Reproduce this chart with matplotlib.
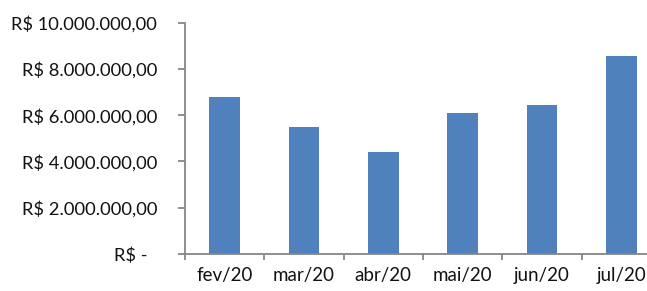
import numpy as np
import matplotlib
matplotlib.use("Agg")
import matplotlib.pyplot as plt
from matplotlib.ticker import FuncFormatter, FixedLocator

# data
months = ["fev/20", "mar/20", "abr/20", "mai/20", "jun/20", "jul/20"]
values = [6770000, 5480000, 4400000, 6100000, 6460000, 8560000]
yticks = [0, 2000000, 4000000, 6000000, 8000000, 10000000]

plt.rcParams['font.family'] = ['Lato', 'DejaVu Sans']

fig = plt.figure(figsize=(6.47, 2.91), dpi=100)
# the plot area runs past the right edge of the picture, as in the reference
ax = fig.add_axes([185/647, 1 - 254/291, 476/647, (254 - 22.7)/291])

x = np.arange(len(months))
ax.bar(x, values, width=0.39, color="#4F81BD")

ax.set_xlim(-0.5, len(months) - 0.5)
ax.set_ylim(0, 10000000)


def brl(v, pos):
    if v == 0:
        return "R$ -  "
    s = f"{v:,.2f}".replace(",", "X").replace(".", ",").replace("X", ".")
    return "R$ " + s


ax.yaxis.set_major_locator(FixedLocator(yticks))
ax.yaxis.set_major_formatter(FuncFormatter(brl))
ax.set_xticks(x)
ax.set_xticklabels(months)
ax.set_xticks(np.arange(len(months) + 1) - 0.5, minor=True)

for s in ["top", "right"]:
    ax.spines[s].set_visible(False)
for s in ["left", "bottom"]:
    ax.spines[s].set_color("#868686")
    ax.spines[s].set_linewidth(1.3)

ax.tick_params(axis="y", length=5, width=1.3, color="#868686", pad=15, labelsize=13.2, labelcolor="#111111")
ax.tick_params(axis="x", which="major", length=0, pad=9, labelsize=13.5, labelcolor="#111111")
ax.tick_params(axis="x", which="minor", length=4, width=1.3, color="#868686")

fig.savefig("out.png", dpi=100)
